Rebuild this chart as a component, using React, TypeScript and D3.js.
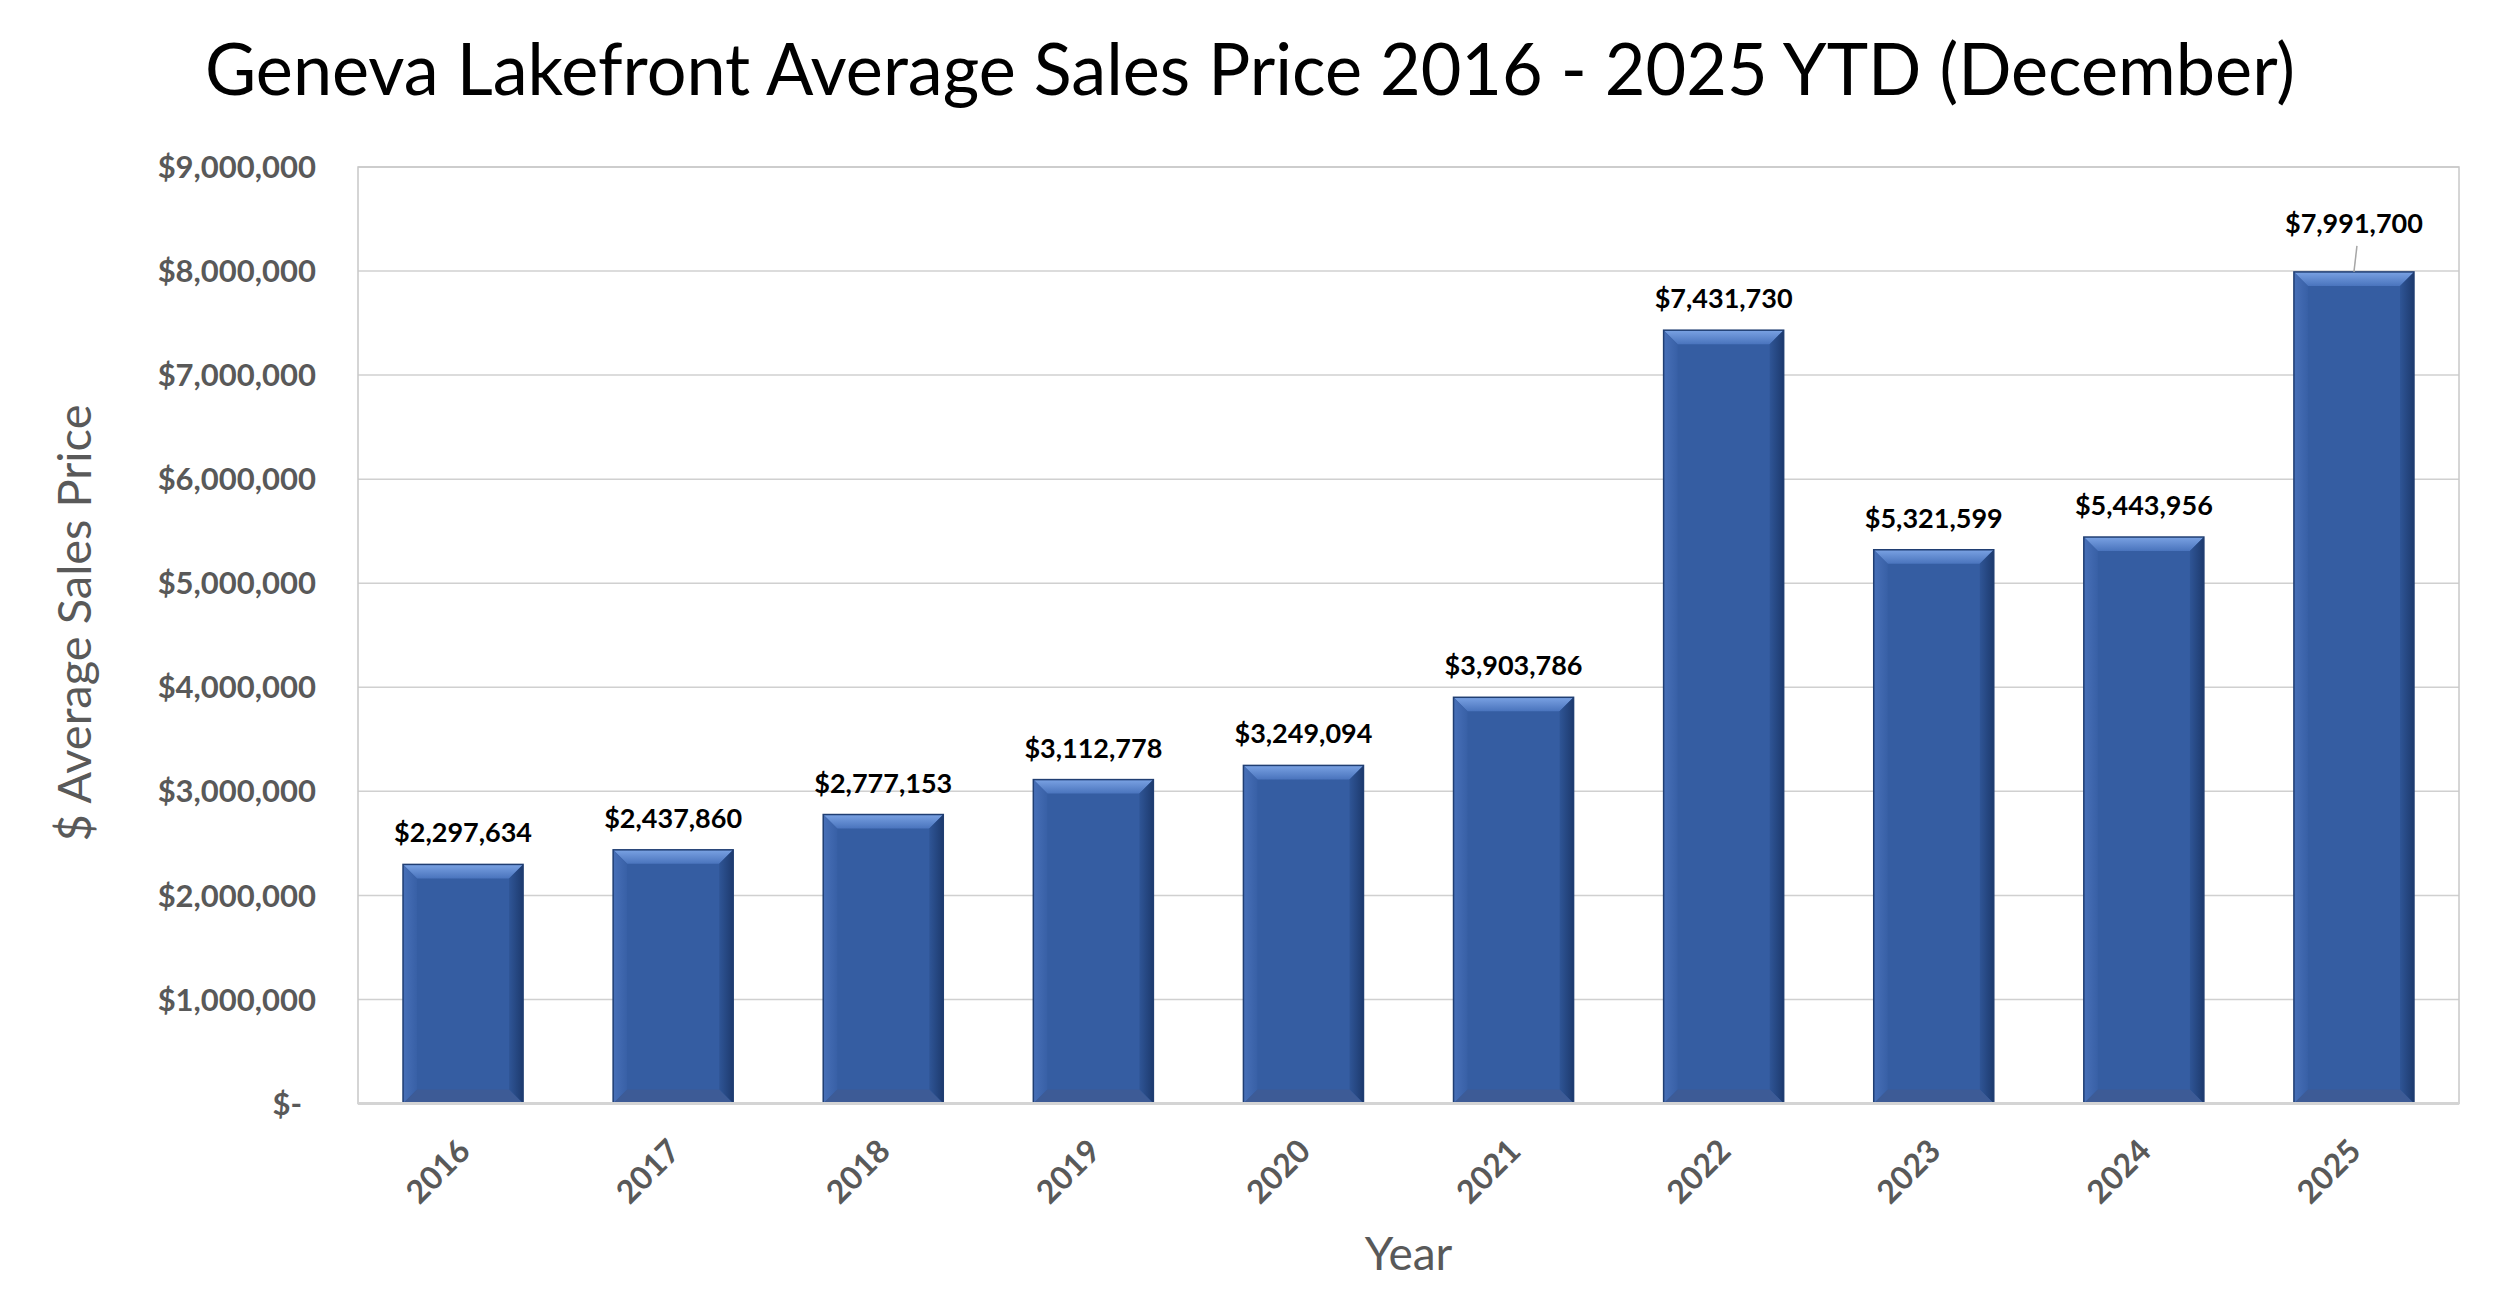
import { useEffect, useRef } from 'react'
import * as d3 from 'd3'

const years = ['2016', '2017', '2018', '2019', '2020', '2021', '2022', '2023', '2024', '2025']
const prices = [2297634, 2437860, 2777153, 3112778, 3249094, 3903786, 7431730, 5321599, 5443956, 7991700]
const yTicks = [0, 1000000, 2000000, 3000000, 4000000, 5000000, 6000000, 7000000, 8000000, 9000000]

const W = 2500
const H = 1314
const FONT = 'Lato, "Open Sans", sans-serif'

export default function App() {
  const svgRef = useRef<SVGSVGElement>(null)

  useEffect(() => {
    if (!svgRef.current) return
    const svg = d3.select(svgRef.current)
    svg.selectAll('*').remove()

    const left = 358
    const right = 2459
    const top = 167
    const bottom = 1103.5

    const x = d3.scaleBand<string>()
      .domain(years)
      .range([left, right])
      .paddingInner(0.75 / 1.75)
      .paddingOuter(0.75 / 3.5)

    const y = d3.scaleLinear()
      .domain([0, 9000000])
      .range([bottom, top])

    const money = d3.format('$,')

    svg.append('rect').attr('width', W).attr('height', H).attr('fill', 'white')

    // gradients for the bevelled bars
    const defs = svg.append('defs')
    const topGrad = defs.append('linearGradient').attr('id', 'bevelTop')
      .attr('x1', 0).attr('y1', 0).attr('x2', 0).attr('y2', 1)
    topGrad.append('stop').attr('offset', '0%').attr('stop-color', '#7aa2e3')
    topGrad.append('stop').attr('offset', '100%').attr('stop-color', '#4a74bd')
    const rightGrad = defs.append('linearGradient').attr('id', 'bevelRight')
      .attr('x1', 0).attr('y1', 0).attr('x2', 1).attr('y2', 0)
    rightGrad.append('stop').attr('offset', '0%').attr('stop-color', '#2f5596')
    rightGrad.append('stop').attr('offset', '100%').attr('stop-color', '#1d3a6e')
    const leftGrad = defs.append('linearGradient').attr('id', 'bevelLeft')
      .attr('x1', 0).attr('y1', 0).attr('x2', 1).attr('y2', 0)
    leftGrad.append('stop').attr('offset', '0%').attr('stop-color', '#4870b8')
    leftGrad.append('stop').attr('offset', '100%').attr('stop-color', '#3860a6')

    // Title
    svg.append('text')
      .attr('x', 1250)
      .attr('y', 95)
      .attr('text-anchor', 'middle')
      .attr('font-family', FONT)
      .attr('font-size', 72)
      .attr('fill', '#000')
      .attr('textLength', 2090)
      .attr('lengthAdjust', 'spacingAndGlyphs')
      .text('Geneva Lakefront Average Sales Price 2016 - 2025 YTD (December)')

    // gridlines
    svg.append('g')
      .selectAll('line')
      .data(yTicks.filter(d => d > 0))
      .join('line')
      .attr('x1', left).attr('x2', right)
      .attr('y1', d => y(d)).attr('y2', d => y(d))
      .attr('stroke', '#d0d0d0')
      .attr('stroke-width', 1.5)

    // plot border
    svg.append('rect')
      .attr('x', left).attr('y', top)
      .attr('width', right - left).attr('height', bottom - top)
      .attr('fill', 'none')
      .attr('stroke', '#c8c8c8')
      .attr('stroke-width', 1.5)

    // y tick labels
    svg.append('g')
      .selectAll('text')
      .data(yTicks)
      .join('text')
      .attr('x', d => (d === 0 ? 302 : 316))
      .attr('y', d => y(d))
      .attr('dy', '0.36em')
      .attr('text-anchor', 'end')
      .attr('font-family', FONT)
      .attr('font-weight', 'bold')
      .attr('font-size', 31)
      .attr('fill', '#595959')
      .text(d => (d === 0 ? '$-' : money(d)))

    // bars with bevel
    const b = 14
    const bars = svg.append('g')
      .selectAll('g')
      .data(prices)
      .join('g')

    bars.each(function (d, i) {
      const g = d3.select(this)
      const x0 = x(years[i])!
      const w = x.bandwidth()
      const y0 = y(d)
      const h = bottom - y0
      const x1 = x0 + w
      const y1 = bottom
      g.append('rect')
        .attr('x', x0).attr('y', y0).attr('width', w).attr('height', h)
        .attr('fill', '#355da2')
      g.append('polygon')
        .attr('points', [[x0, y0], [x1, y0], [x1 - b, y0 + b], [x0 + b, y0 + b]].map(p => p.join(',')).join(' '))
        .attr('fill', 'url(#bevelTop)')
      g.append('polygon')
        .attr('points', [[x0, y0], [x0 + b, y0 + b], [x0 + b, y1 - b], [x0, y1]].map(p => p.join(',')).join(' '))
        .attr('fill', 'url(#bevelLeft)')
      g.append('polygon')
        .attr('points', [[x1, y0], [x1, y1], [x1 - b, y1 - b], [x1 - b, y0 + b]].map(p => p.join(',')).join(' '))
        .attr('fill', 'url(#bevelRight)')
      g.append('polygon')
        .attr('points', [[x0, y1], [x0 + b, y1 - b], [x1 - b, y1 - b], [x1, y1]].map(p => p.join(',')).join(' '))
        .attr('fill', '#3d5b96')
      g.append('rect')
        .attr('x', x0).attr('y', y0).attr('width', w).attr('height', h)
        .attr('fill', 'none')
        .attr('stroke', '#203e72')
        .attr('stroke-width', 1.5)
    })

    // bottom axis line
    svg.append('line')
      .attr('x1', left).attr('x2', right)
      .attr('y1', bottom).attr('y2', bottom)
      .attr('stroke', '#d4d4d4')
      .attr('stroke-width', 3)

    // data labels (last one was pulled up with a leader line)
    const last = prices.length - 1
    const lift = 17
    svg.append('g')
      .selectAll('text')
      .data(prices)
      .join('text')
      .attr('x', (_, i) => x(years[i])! + x.bandwidth() / 2)
      .attr('y', (d, i) => y(d) - 22 - (i === last ? lift : 0))
      .attr('text-anchor', 'middle')
      .attr('font-family', FONT)
      .attr('font-weight', 'bold')
      .attr('font-size', 27)
      .attr('fill', '#000')
      .text(d => money(d))

    const cx = x(years[last])! + x.bandwidth() / 2
    svg.append('line')
      .attr('x1', cx + 3).attr('y1', y(prices[last]) - 26)
      .attr('x2', cx).attr('y2', y(prices[last]))
      .attr('stroke', '#a6a6a6')
      .attr('stroke-width', 1.5)

    // x tick labels
    svg.append('g')
      .selectAll('text')
      .data(years)
      .join('text')
      .attr('transform', d => `translate(${x(d)! + x.bandwidth() / 2 + 9}, 1153) rotate(-45)`)
      .attr('text-anchor', 'end')
      .attr('font-family', FONT)
      .attr('font-weight', 'bold')
      .attr('font-size', 32)
      .attr('fill', '#595959')
      .text(d => d)

    // axis titles
    svg.append('text')
      .attr('x', (left + right) / 2)
      .attr('y', 1270)
      .attr('text-anchor', 'middle')
      .attr('font-family', FONT)
      .attr('font-size', 46)
      .attr('fill', '#595959')
      .text('Year')

    svg.append('text')
      .attr('transform', 'translate(91, 623) rotate(-90)')
      .attr('text-anchor', 'middle')
      .attr('font-family', FONT)
      .attr('font-size', 47)
      .attr('fill', '#595959')
      .text('$ Average Sales Price')
  }, [])

  return (
    <svg
      ref={svgRef}
      width={W}
      height={H}
      style={{ position: 'absolute', left: 0, top: 0, display: 'block' }}
    />
  )
}
